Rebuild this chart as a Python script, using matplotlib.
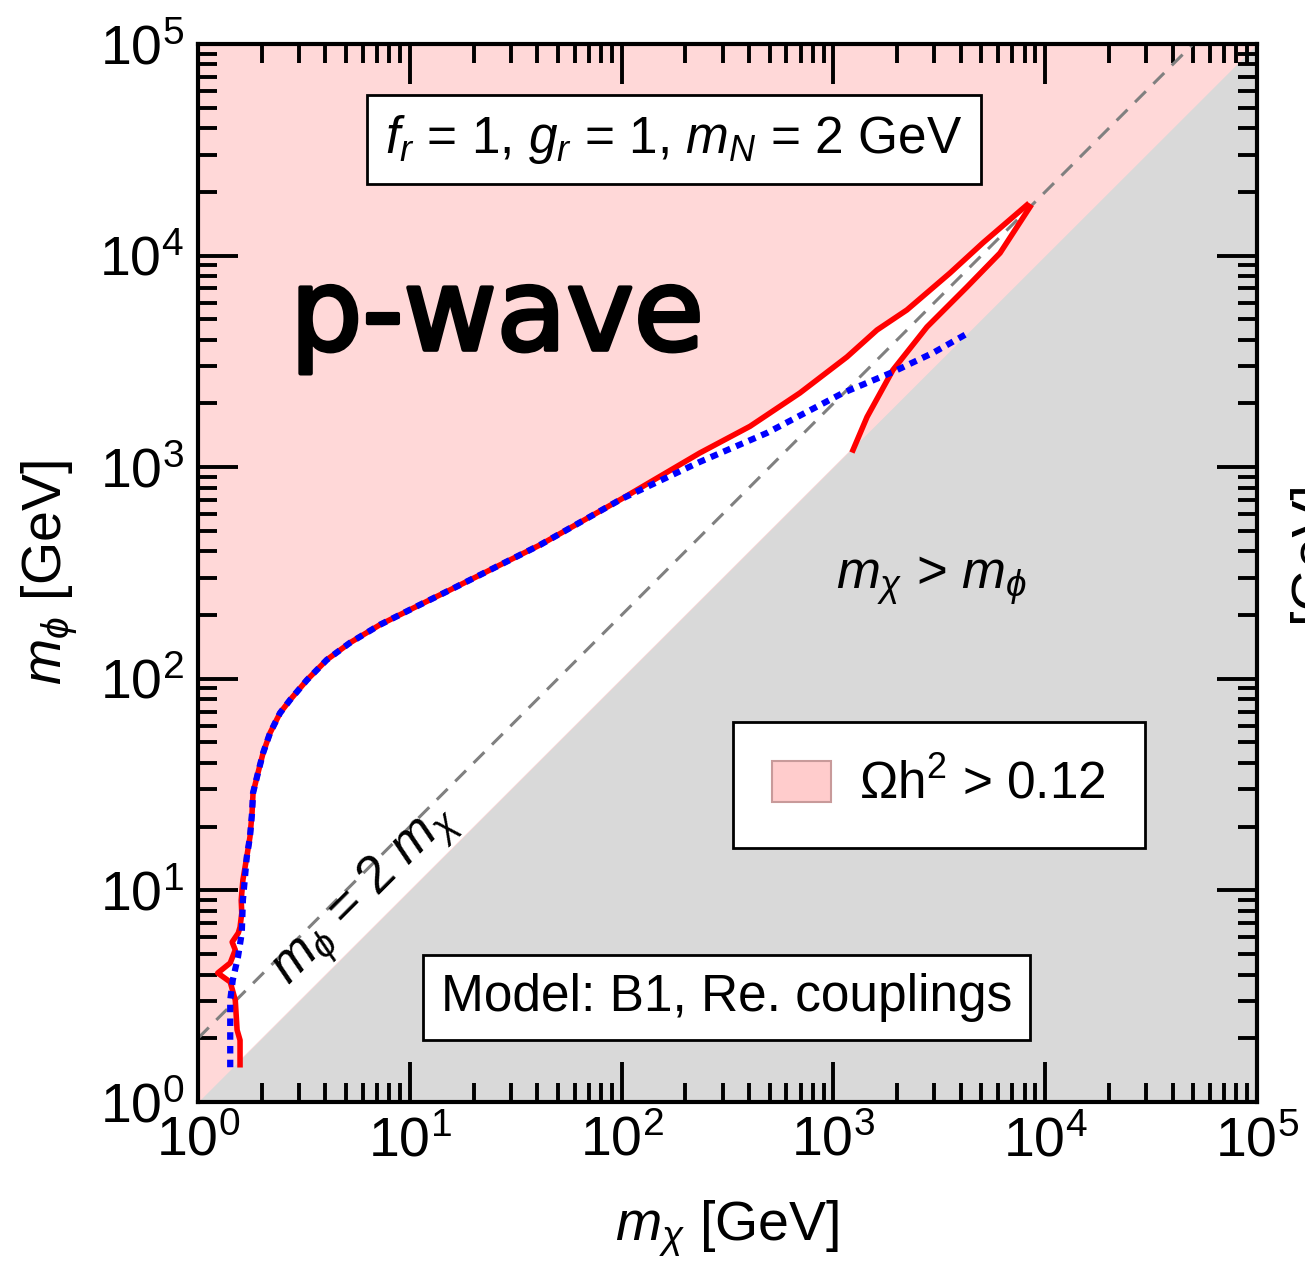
import matplotlib
matplotlib.use('Agg')
import matplotlib.pyplot as plt
from matplotlib.patches import Patch
import matplotlib.patheffects as pe

plt.rcParams['font.family'] = ['Liberation Sans', 'DejaVu Sans']
plt.rcParams['mathtext.fontset'] = 'custom'
plt.rcParams['mathtext.rm'] = 'Liberation Sans'
plt.rcParams['mathtext.it'] = 'Liberation Sans:italic'

# relic density contour (red), upper branch
red_x = [1.58, 1.58, 1.53, 1.50, 1.42, 1.24, 1.42, 1.50, 1.45, 1.55, 1.58, 1.61,
         1.60, 1.63, 1.70, 1.76, 1.80, 1.82, 1.92, 2.03, 2.19, 2.44, 2.72, 3.27,
         4.06, 5.22, 7.23, 10.4, 15.5, 41.2, 100, 234, 404, 695, 1159, 1607,
         2224, 3555, 5080, 8200]
red_y = [1.50, 1.96, 2.19, 3.03, 3.69, 4.07, 4.54, 5.23, 5.70, 6.29, 6.71, 7.82,
         9.0, 11.2, 14.4, 17.9, 23.2, 28.9, 35.9, 44.6, 55.5, 68.9, 79.4, 98.7,
         123, 148, 180, 216, 263, 429, 708, 1167, 1560, 2243, 3318, 4450,
         5534, 8275, 11480, 17340]

# lower (heavy mass) branch of the red contour
red2_x = [1238, 1442, 1910, 2767, 4275, 6120, 8480]
red2_y = [1206, 1727, 2879, 4600, 7110, 10280, 16980]

# approximation (blue dotted)
blue_x = [1.42, 1.42, 1.42, 1.46, 1.545, 1.61, 1.63, 1.70, 1.76, 1.80, 1.82,
          1.92, 2.03, 2.19, 2.44, 2.72, 3.27, 4.06, 5.22, 7.23, 10.4, 15.5,
          41.2, 100, 234, 486, 1110, 1910, 2951, 4416]
blue_y = [1.46, 2.12, 3.03, 3.77, 4.85, 6.29, 9.0, 14.4, 17.9, 23.2, 28.9,
          35.9, 44.6, 55.5, 68.9, 79.4, 98.7, 123, 148, 180, 216, 263,
          429, 708, 1059, 1452, 2243, 2818, 3467, 4355]

lims = [1, 1e5]
diag_y = [1, 1e5]
twice_y = [2, 2e5]

pink = '#ffd8d8'
gray = '#d9d9d9'

fig = plt.figure(figsize=(13.05, 12.82), dpi=100)
ax = fig.add_axes([0.1517, 0.1404, 0.8115, 0.8253])
ax.set_facecolor(pink)
ax.set_xscale('log')
ax.set_yscale('log')
ax.set_xlim(lims)
ax.set_ylim(lims)

# allowed (white) region between contour and the diagonal
wx = red_x + red2_x[::-1] + [red2_x[0], red_x[0]]
wy = red_y + red2_y[::-1] + [red2_x[0], red_x[0]]
ax.fill(wx, wy, color='white', lw=0, zorder=1)

# m_chi > m_phi region
ax.fill_between(lims, [1, 1], diag_y, color=gray, lw=0, zorder=1.5)

ax.plot(lims, twice_y, color='#808080', lw=2.2, ls=(0, (5, 3.5)), zorder=2)
ax.plot(red_x, red_y, color='red', lw=4, zorder=3, solid_joinstyle='round')
ax.plot(red2_x, red2_y, color='red', lw=4, zorder=3)
ax.plot(blue_x, blue_y, color='blue', lw=4.5, ls=(0, (1.2, 1.0)), zorder=4)

ax.tick_params(which='both', direction='in', top=True, right=True,
               labelsize=40, width=2.8)
ax.tick_params(which='major', length=29, pad=10)
ax.tick_params(which='minor', length=14)
for s in ax.spines.values():
    s.set_linewidth(3)
    s.set_zorder(6)

ax.set_xlabel(r'$m_\chi$ [GeV]', fontsize=40, labelpad=22)
ax.set_ylabel(r'$m_\phi$ [GeV]', fontsize=40, labelpad=14)

box = dict(boxstyle='square,pad=0.35', fc='white', ec='black', lw=2)
ax.text(0.4495, 0.9097, r'$f_r$ = 1, $g_r$ = 1, $m_N$ = 2 GeV', fontsize=37,
        transform=ax.transAxes, ha='center', va='center', bbox=box, zorder=7)
ax.text(0.499, 0.0988, 'Model: B1, Re. couplings', fontsize=37,
        transform=ax.transAxes, ha='center', va='center', bbox=box, zorder=7)
ax.text(0.693, 0.493, r'$m_\chi$ > $m_\phi$', fontsize=38,
        transform=ax.transAxes, ha='center', va='center', zorder=7)
ax.text(0.158, 0.196, r'$m_\phi$ = 2 $m_\chi$', fontsize=38, rotation=45,
        transform=ax.transAxes, ha='center', va='center', zorder=7)
ax.text(0.087, 0.711, 'p-wave', fontsize=82, fontfamily='DejaVu Sans',
        transform=ax.transAxes, ha='left', va='baseline', zorder=7,
        path_effects=[pe.withStroke(linewidth=3, foreground='black')])

leg = ax.legend(handles=[Patch(fc='#ffcccc', ec='#c89a9a', lw=1.5,
                               label=r'$\Omega$h$^2$ > 0.12')],
                loc='center', bbox_to_anchor=(0.6997, 0.2996), fontsize=37,
                fancybox=False, framealpha=1, edgecolor='black',
                handlelength=1.15, handleheight=0.85, borderpad=0.75,
                handletextpad=0.55, borderaxespad=0)
leg.get_frame().set_linewidth(2)
leg.set_zorder(7)

# cut-off label of the neighbouring panel
fig.text(1287 / 1305, 0.515, '[GeV]', rotation=90, fontsize=40,
         ha='left', va='bottom')

fig.savefig('out.png', dpi=100)
